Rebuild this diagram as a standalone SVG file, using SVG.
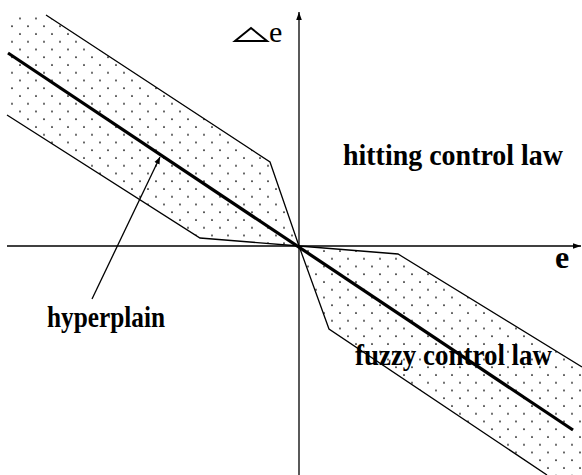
<svg xmlns="http://www.w3.org/2000/svg" width="582" height="475" viewBox="0 0 582 475">
<style>
.thin{fill:none;stroke:#000;stroke-width:1.3}
.thick{fill:none;stroke:#000;stroke-width:3.2}
.lbl{font-family:"Liberation Serif",serif;font-weight:bold;fill:#000}
</style>
<defs>
<pattern id="dots" x="0" y="0" width="16" height="15.5" patternUnits="userSpaceOnUse">
<circle cx="4" cy="3" r="0.9" fill="#000"/>
<circle cx="12" cy="10.75" r="0.9" fill="#000"/>
</pattern>
<marker id="ah" viewBox="0 0 10 10" refX="10" refY="5" markerWidth="7" markerHeight="7" markerUnits="userSpaceOnUse" orient="auto">
<path d="M0,1 L10,5 L0,9 Z" fill="#000"/>
</marker>
<marker id="ax" viewBox="0 0 10 10" refX="10" refY="5" markerWidth="10" markerHeight="8" markerUnits="userSpaceOnUse" orient="auto">
<path d="M0,1.5 L10,5 L0,8.5 Z" fill="#000"/>
</marker>
</defs>
<g id="band-left">
<polygon points="7,15 46,15 270,162 299,246 200,238 7,115" fill="url(#dots)"/>
<polyline class="thin" points="46,15 270,162 299,246"/>
<polyline class="thin" points="7,115 200,238 299,246"/>
</g>
<g id="band-right">
<polygon points="299,246 398,254 582,367 582,475 547,475 329,329" fill="url(#dots)"/>
<polyline class="thin" points="299,246 398,254 582,367"/>
<polyline class="thin" points="299,246 329,329 547,475"/>
</g>
<g id="axes">
<line class="thin" x1="299" y1="475" x2="299" y2="12" marker-end="url(#ax)"/>
<line class="thin" x1="7" y1="246" x2="581" y2="246" marker-end="url(#ax)"/>
</g>
<g id="hyperplane">
<line class="thick" x1="8" y1="53" x2="573" y2="430"/>
</g>
<g id="connectors">
<line class="thin" x1="92" y1="299" x2="160" y2="157" marker-end="url(#ah)"/>
</g>
<g id="label-de">
<polygon points="235,41 267,41 251,28" fill="none" stroke="#000" stroke-width="2"/>
<text x="269" y="42" font-size="30" font-family="Liberation Serif, serif" fill="#000">e</text>
</g>
<g id="label-e">
<text class="lbl" x="555" y="268" font-size="32">e</text>
</g>
<g id="label-hitting">
<text class="lbl" x="343" y="165" font-size="30" textLength="220" lengthAdjust="spacingAndGlyphs">hitting control law</text>
</g>
<g id="label-hyperplain">
<text class="lbl" x="47" y="327" font-size="30" textLength="118" lengthAdjust="spacingAndGlyphs">hyperplain</text>
</g>
<g id="label-fuzzy">
<text class="lbl" x="355" y="365" font-size="30" textLength="197" lengthAdjust="spacingAndGlyphs">fuzzy control law</text>
</g>
</svg>
